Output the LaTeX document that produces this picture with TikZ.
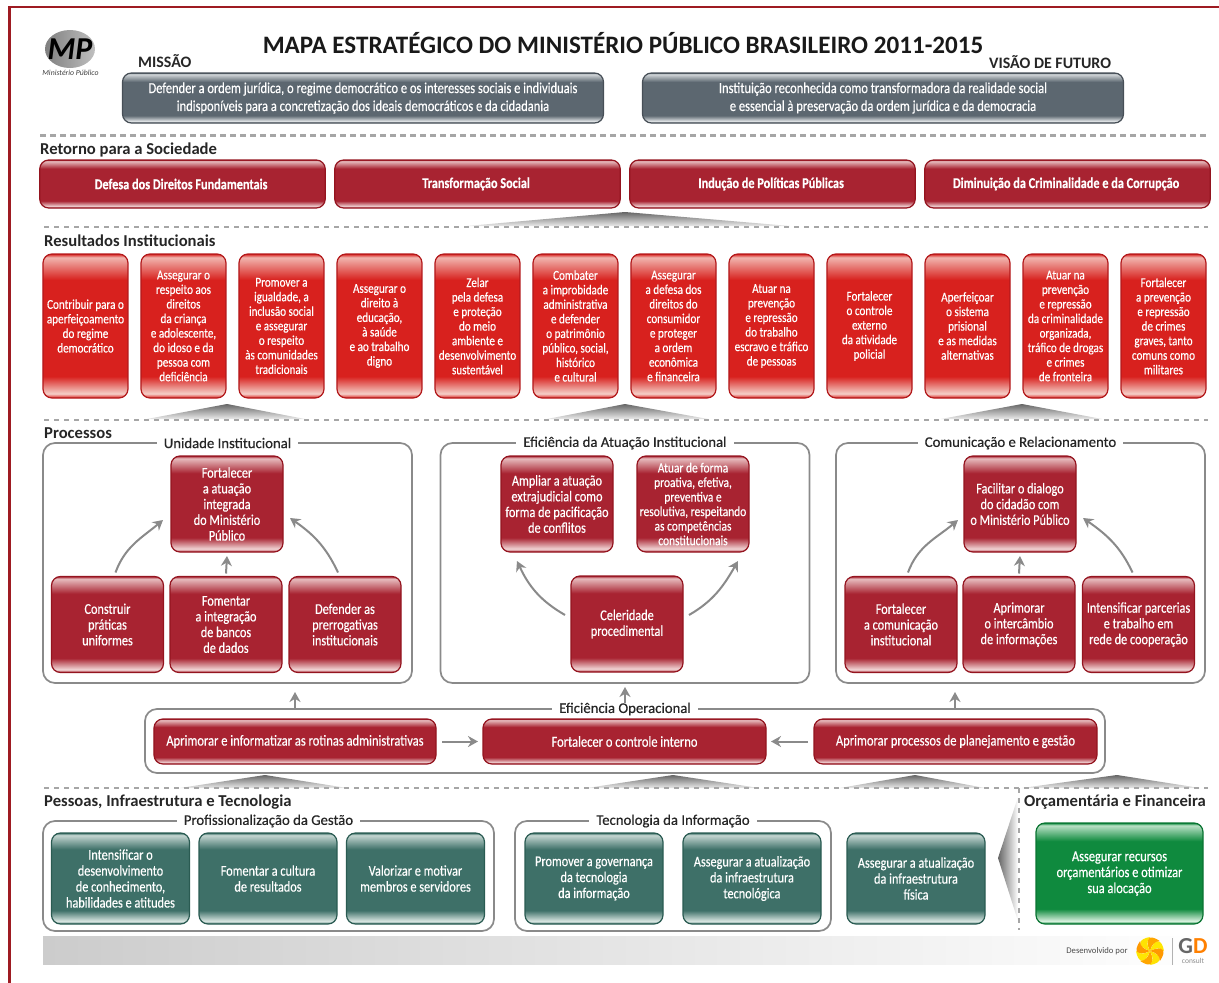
\documentclass[tikz,border=0pt]{standalone}
\usepackage{fontspec}
\setmainfont[FakeStretch=0.82,FakeBold=0.4]{Carlito}
\newfontfamily\titlefont{Carlito}
\newfontfamily\medfont[FakeBold=0.4]{Carlito}
\usetikzlibrary{matrix}
\usetikzlibrary{arrows.meta}
\definecolor{framered}{HTML}{9E1B22}
\definecolor{resred}{HTML}{D8211E}
\definecolor{reslight}{HTML}{F5CFC8}
\definecolor{resedge}{HTML}{B3191B}
\definecolor{prored}{HTML}{A82331}
\definecolor{prolight}{HTML}{F2D8D8}
\definecolor{proedge}{HTML}{94141F}
\definecolor{teal}{HTML}{3E7068}
\definecolor{teallight}{HTML}{DCE8E4}
\definecolor{tealedge}{HTML}{2A5B52}
\definecolor{leaf}{HTML}{0F8A3E}
\definecolor{leaflight}{HTML}{D8F0DE}
\definecolor{leafedge}{HTML}{0A7432}
\definecolor{slate}{HTML}{5C6770}
\definecolor{slatelight}{HTML}{E8EBED}
\definecolor{slateedge}{HTML}{474F57}
\definecolor{linegray}{HTML}{8A8A8A}
\definecolor{dashgray}{HTML}{A6A6A6}
\newcommand{\bandshade}[3]{\pgfdeclareverticalshading{#1}{100bp}{color(0bp)=(#2);color(25bp)=(#2);color(26.5bp)=(#3);color(32.5bp)=(#2);color(66bp)=(#2);color(73.8bp)=(#3!85!#2);color(75bp)=(#2);color(100bp)=(#2)}}
\bandshade{resband}{resred}{reslight}
\bandshade{proband}{prored}{prolight}
\bandshade{tealband}{teal}{teallight}
\bandshade{leafband}{leaf}{leaflight}
\bandshade{slateband}{slate}{slatelight}
\tikzset{
	tilebox/.style={shade,rounded corners=9bp,line width=1.2bp,text=white,align=center,inner sep=0pt,outer sep=0pt},
	resbox/.style={tilebox,shading=resband,draw=resedge,minimum width=85bp,minimum height=144bp,text width=85bp,align=flush center,anchor=center,font=\fontsize{13.6}{14.6}\selectfont},
	retbox/.style={tilebox,shading=proband,draw=proedge,minimum width=285.5bp,minimum height=48bp,anchor=center,font=\bfseries\fontsize{15}{16}\selectfont},
	probox/.style={tilebox,shading=proband,draw=proedge,minimum width=112bp,minimum height=96bp,font=\fontsize{15}{15.8}\selectfont},
	opbox/.style={tilebox,shading=proband,draw=proedge,minimum height=45bp,font=\fontsize{15.3}{15.8}\selectfont},
	tealbox/.style={tilebox,shading=tealband,draw=tealedge,minimum width=138bp,minimum height=91bp,font=\fontsize{15}{16}\selectfont},
	leafbox/.style={tilebox,shading=leafband,draw=leafedge,minimum width=167bp,minimum height=101bp,font=\fontsize{15.2}{16}\selectfont},
	slatebox/.style={tilebox,shading=slateband,draw=slateedge,minimum width=481bp,minimum height=50bp,font=\fontsize{15.3}{18}\selectfont},
	groupbox/.style={draw=linegray,line width=1.7bp,rounded corners=12bp,outer sep=0pt},
	grouptitle/.style={fill=white,inner sep=0pt,inner xsep=7bp,font=\medfont\fontsize{14.8}{16}\selectfont,text=black!85},
	heading/.style={anchor=west,inner sep=0pt,font=\titlefont\bfseries\fontsize{16.7}{18}\selectfont,text=black!85},
	flowarrow/.style={-{Stealth[length=10bp,width=11bp]},draw=linegray,line width=2bp},
	dashrule/.style={draw=dashgray,line width=2bp,dash pattern=on 5bp off 5bp},
	wedge/.style={top color=black!60,bottom color=black!8,draw=none},
}
\begin{document}
\begin{tikzpicture}[x=1bp,y=-1bp]
	\useasboundingbox (0,0) rectangle (1219,983);
	\draw[framered,line width=2.4bp] (9.5,983) -- (9.5,7) -- (1219,7);

	\shade[left color=black!20,right color=white] (43,936) rectangle (1208,964);
	\shade[wedge] (467,226) -- (625,212) -- (790,226) -- cycle;
	\shade[wedge] (147,419) -- (227,404) -- (305,419) -- cycle;
	\shade[wedge] (547,419) -- (625,404) -- (708,419) -- cycle;
	\shade[wedge] (941,419) -- (1022,404) -- (1102,419) -- cycle;
	\shade[wedge] (180,788) -- (265,775) -- (347,788) -- cycle;
	\shade[wedge] (587,788) -- (673,775) -- (759,788) -- cycle;
	\shade[wedge] (840,788) -- (915,775) -- (985,788) -- cycle;
	\shade[wedge] (1022,788) -- (1117,775) -- (1200,788) -- cycle;
	\shade[left color=black!60,right color=white] (1018,797) -- (998,858) -- (1018,921) -- cycle;

	\draw[dashrule,line width=3bp,dash pattern=on 6bp off 4bp] (40,135) -- (1208,135);
	\draw[dashrule] (44,227) -- (1208,227);
	\draw[dashrule] (44,420) -- (1208,420);
	\draw[dashrule] (44,788) -- (1208,788);
	\draw[dashrule] (1019,788) -- (1019,930);

	\shade[left color=black!50,right color=black!25] (70,49) ellipse (25 and 19);
	\node (logomp) at (70,49) [inner sep=0pt,font=\titlefont\bfseries\itshape\fontsize{32}{32}\selectfont,text=black] {MP};
	\node (logotext) at (70.5,72.5) [inner sep=0pt,font=\titlefont\itshape\fontsize{7.8}{8}\selectfont,text=black!75] {Ministério Público};

	\node (title) at (623,43) [inner sep=0pt,font=\titlefont\bfseries\fontsize{25.2}{26}\selectfont,text=black!90] {MAPA ESTRATÉGICO DO MINISTÉRIO PÚBLICO BRASILEIRO 2011-2015};
	\node (missao) at (138,61) [heading,font=\titlefont\bfseries\fontsize{16}{17}\selectfont] {MISSÃO};
	\node (visao) at (989,62) [heading,font=\titlefont\bfseries\fontsize{16}{17}\selectfont] {VISÃO DE FUTURO};
	\node (missaobox) at (363,98) [slatebox] {Defender a ordem jurídica, o regime democrático e os interesses sociais e individuais\\indisponíveis para a concretização dos ideais democráticos e da cidadania};
	\node (visaobox) at (883,98) [slatebox] {Instituição reconhecida como transformadora da realidade social\\e essencial à preservação da ordem jurídica e da democracia};

	\node (retorno) at (40,148) [heading,yshift=-1.5bp] {Retorno para a Sociedade};
	\matrix[matrix of nodes,nodes={retbox},column sep=8.3bp,inner sep=0pt,ampersand replacement=\&] at (625,184)
	{
		|(ret1)| Defesa dos Direitos Fundamentais \& |(ret2)| Transformação Social \& |(ret3)| Indução de Políticas Públicas \& |(ret4)| Diminuição da Criminalidade e da Corrupção \\
	};

	\node (resultados) at (44,241) [heading] {Resultados Institucionais};
	\matrix[matrix of nodes,nodes={resbox},column sep=11.8bp,inner sep=0pt,ampersand replacement=\&] at (624.5,326)
	{
		|(res1)| {Contribuir para o\\aperfeiçoamento\\do regime\\democrático} \&
		|(res2)| {Assegurar o\\respeito aos\\direitos\\da criança\\e adolescente,\\do idoso e da\\pessoa com\\deficiência} \&
		|(res3)| {Promover a\\igualdade, a\\inclusão social\\e assegurar\\o respeito\\às comunidades\\tradicionais} \&
		|(res4)| {Assegurar o\\direito à\\educação,\\à saúde\\e ao trabalho\\digno} \&
		|(res5)| {Zelar\\pela defesa\\e proteção\\do meio\\ambiente e\\desenvolvimento\\sustentável} \&
		|(res6)| {Combater\\a improbidade\\administrativa\\e defender\\o patrimônio\\público, social,\\histórico\\e cultural} \&
		|(res7)| {Assegurar\\a defesa dos\\direitos do\\consumidor\\e proteger\\a ordem\\econômica\\e financeira} \&
		|(res8)| {Atuar na\\prevenção\\e repressão\\do trabalho\\escravo e tráfico\\de pessoas} \&
		|(res9)| {Fortalecer\\o controle\\externo\\da atividade\\policial} \&
		|(res10)| {Aperfeiçoar\\o sistema\\prisional\\e as medidas\\alternativas} \&
		|(res11)| {Atuar na\\prevenção\\e repressão\\da criminalidade\\organizada,\\tráfico de drogas\\e crimes\\de fronteira} \&
		|(res12)| {Fortalecer\\a prevenção\\e repressão\\de crimes\\graves, tanto\\comuns como\\militares} \\
	};

	\node (processos) at (44,433) [heading] {Processos};
	\node (unidade) at (227.5,563) [groupbox,minimum width=369bp,minimum height=240bp] {};
	\node (eficiencia) at (625,563) [groupbox,minimum width=369bp,minimum height=240bp] {};
	\node (comunicacao) at (1020.5,563) [groupbox,minimum width=369bp,minimum height=240bp] {};
	\node (operacional) at (625,741) [groupbox,minimum width=960bp,minimum height=64bp] {};
	\node (unidadetitle) at (unidade.north) [grouptitle] {Unidade Institucional};
	\node (eficienciatitle) at (eficiencia.north) [grouptitle] {Eficiência da Atuação Institucional};
	\node (comunicacaotitle) at (comunicacao.north) [grouptitle] {Comunicação e Relacionamento};
	\node (operacionaltitle) at (operacional.north) [grouptitle] {Eficiência Operacional};

	\node (uniatu) at (227,504) [probox] {Fortalecer\\a atuação\\integrada\\do Ministério\\Público};
	\node (unipra) at (107.5,624.5) [probox] {Construir\\práticas\\uniformes};
	\node (uniban) at (226,624.5) [probox] {Fomentar\\a integração\\de bancos\\de dados};
	\node (unipre) at (345,624.5) [probox] {Defender as\\prerrogativas\\institucionais};
	\draw[flowarrow] ([shift={(8,-4)}]unipra.north) to[out=70,in=220] ([shift={(-8,16)}]uniatu.west);
	\draw[flowarrow] ([yshift=3bp]uniban.north) -- ([yshift=-4bp]uniatu.south);
	\draw[flowarrow] ([shift={(-7,-4)}]unipre.north) to[out=115,in=325] ([shift={(7,14)}]uniatu.east);

	\node (efiamp) at (557,504) [probox] {Ampliar a atuação\\extrajudicial como\\forma de pacificação\\de conflitos};
	\node (efiatu) at (693,504) [probox,font=\fontsize{14}{14.6}\selectfont] {Atuar de forma\\proativa, efetiva,\\preventiva e\\resolutiva, respeitando\\as competências\\constitucionais};
	\node (eficel) at (627,624) [probox] {Celeridade\\procedimental};
	\draw[flowarrow] ([shift={(-6,-9)}]eficel.west) to[out=150,in=295] ([shift={(-40,9)}]efiamp.south);
	\draw[flowarrow] ([shift={(6,-9)}]eficel.east) to[out=30,in=240] ([shift={(45,9)}]efiatu.south);

	\node (comdia) at (1020,504) [probox] {Facilitar o dialogo\\do cidadão com\\o Ministério Público};
	\node (cominst) at (901,624.5) [probox] {Fortalecer\\a comunicação\\institucional};
	\node (comint) at (1019,624.5) [probox] {Aprimorar\\o intercâmbio\\de informações};
	\node (comrede) at (1138.5,624.5) [probox] {Intensificar parcerias\\e trabalho em\\rede de cooperação};
	\draw[flowarrow] ([shift={(7,-4)}]cominst.north) to[out=70,in=220] ([shift={(-6,16)}]comdia.west);
	\draw[flowarrow] ([yshift=3bp]comint.north) -- ([yshift=-4bp]comdia.south);
	\draw[flowarrow] ([shift={(-6,-4)}]comrede.north) to[out=115,in=325] ([shift={(7,14)}]comdia.east);

	\node (oprot) at (295,741.5) [opbox,minimum width=282bp] {Aprimorar e informatizar as rotinas administrativas};
	\node (opcon) at (624.5,741.5) [opbox,minimum width=283bp] {Fortalecer o controle interno};
	\node (opgest) at (955.5,741.5) [opbox,minimum width=283bp] {Aprimorar processos de planejamento e gestão};
	\draw[flowarrow] ([xshift=6bp]oprot.east) -- ([xshift=-5bp]opcon.west);
	\draw[flowarrow] ([xshift=-6bp]opgest.west) -- ([xshift=5bp]opcon.east);
	\draw[flowarrow] ([xshift=67.5bp]unidade.south |- operacional.north) -- ([xshift=67.5bp,yshift=-9bp]unidade.south);
	\draw[flowarrow] (eficiencia.south |- operacionaltitle.north) -- ([yshift=-4bp]eficiencia.south);
	\draw[flowarrow] ([xshift=-65.5bp]comunicacao.south |- operacional.north) -- ([xshift=-65.5bp,yshift=-9bp]comunicacao.south);

	\node (pessoas) at (44,802) [heading] {Pessoas, Infraestrutura e Tecnologia};
	\node (orcamento) at (1024,802) [heading] {Orçamentária e Financeira};
	\node (gestao) at (268.5,876) [groupbox,minimum width=451bp,minimum height=110bp] {};
	\node (tecnologia) at (673,876) [groupbox,minimum width=316bp,minimum height=110bp] {};
	\node (gestaotitle) at (gestao.north) [grouptitle] {Profissionalização da Gestão};
	\node (tecnologiatitle) at (tecnologia.north) [grouptitle] {Tecnologia da Informação};
	\node (gesdes) at (120.5,878.5) [tealbox] {Intensificar o\\desenvolvimento\\de conhecimento,\\habilidades e atitudes};
	\node (gescul) at (268,878.5) [tealbox] {Fomentar a cultura\\de resultados};
	\node (gesmem) at (415.5,878.5) [tealbox] {Valorizar e motivar\\membros e servidores};
	\node (tecgov) at (594,878.5) [tealbox] {Promover a governança\\da tecnologia\\da informação};
	\node (tecinf) at (752,878.5) [tealbox] {Assegurar a atualização\\da infraestrutura\\tecnológica};
	\node (fisica) at (916,878.5) [tealbox] {Assegurar a atualização\\da infraestrutura\\física};
	\node (recursos) at (1119.5,873.5) [leafbox] {Assegurar recursos\\orçamentários e otimizar\\sua alocação};

	\node (desenvolvido) at (1097,951) [inner sep=0pt,font=\titlefont\fontsize{8.7}{10}\selectfont,text=black!70] {Desenvolvido por};
	\foreach \ang/\tone in {0/yellow!90!orange,45/orange!70!yellow,90/yellow!85!orange,135/orange!80!yellow,180/yellow!90!orange,225/orange!70!yellow,270/yellow!85!orange,315/orange!80!yellow}
		\fill[\tone,rotate around={\ang:(1150,951)}] (1150,951) .. controls (1155,937) and (1162,939) .. (1164,951) .. controls (1160,947) and (1155,948) .. (1150,951);
	\draw[black!30,line width=.8bp] (1172,938) -- (1172,965);
	\node (gd) at (1193,946) [inner sep=0pt,font=\titlefont\bfseries\fontsize{23}{23}\selectfont,text=black!60] {G\textcolor{orange}{D}};
	\node (consult) at (1193,961) [inner sep=0pt,font=\titlefont\fontsize{7.5}{8}\selectfont,text=black!45] {consult};
\end{tikzpicture}
\end{document}
